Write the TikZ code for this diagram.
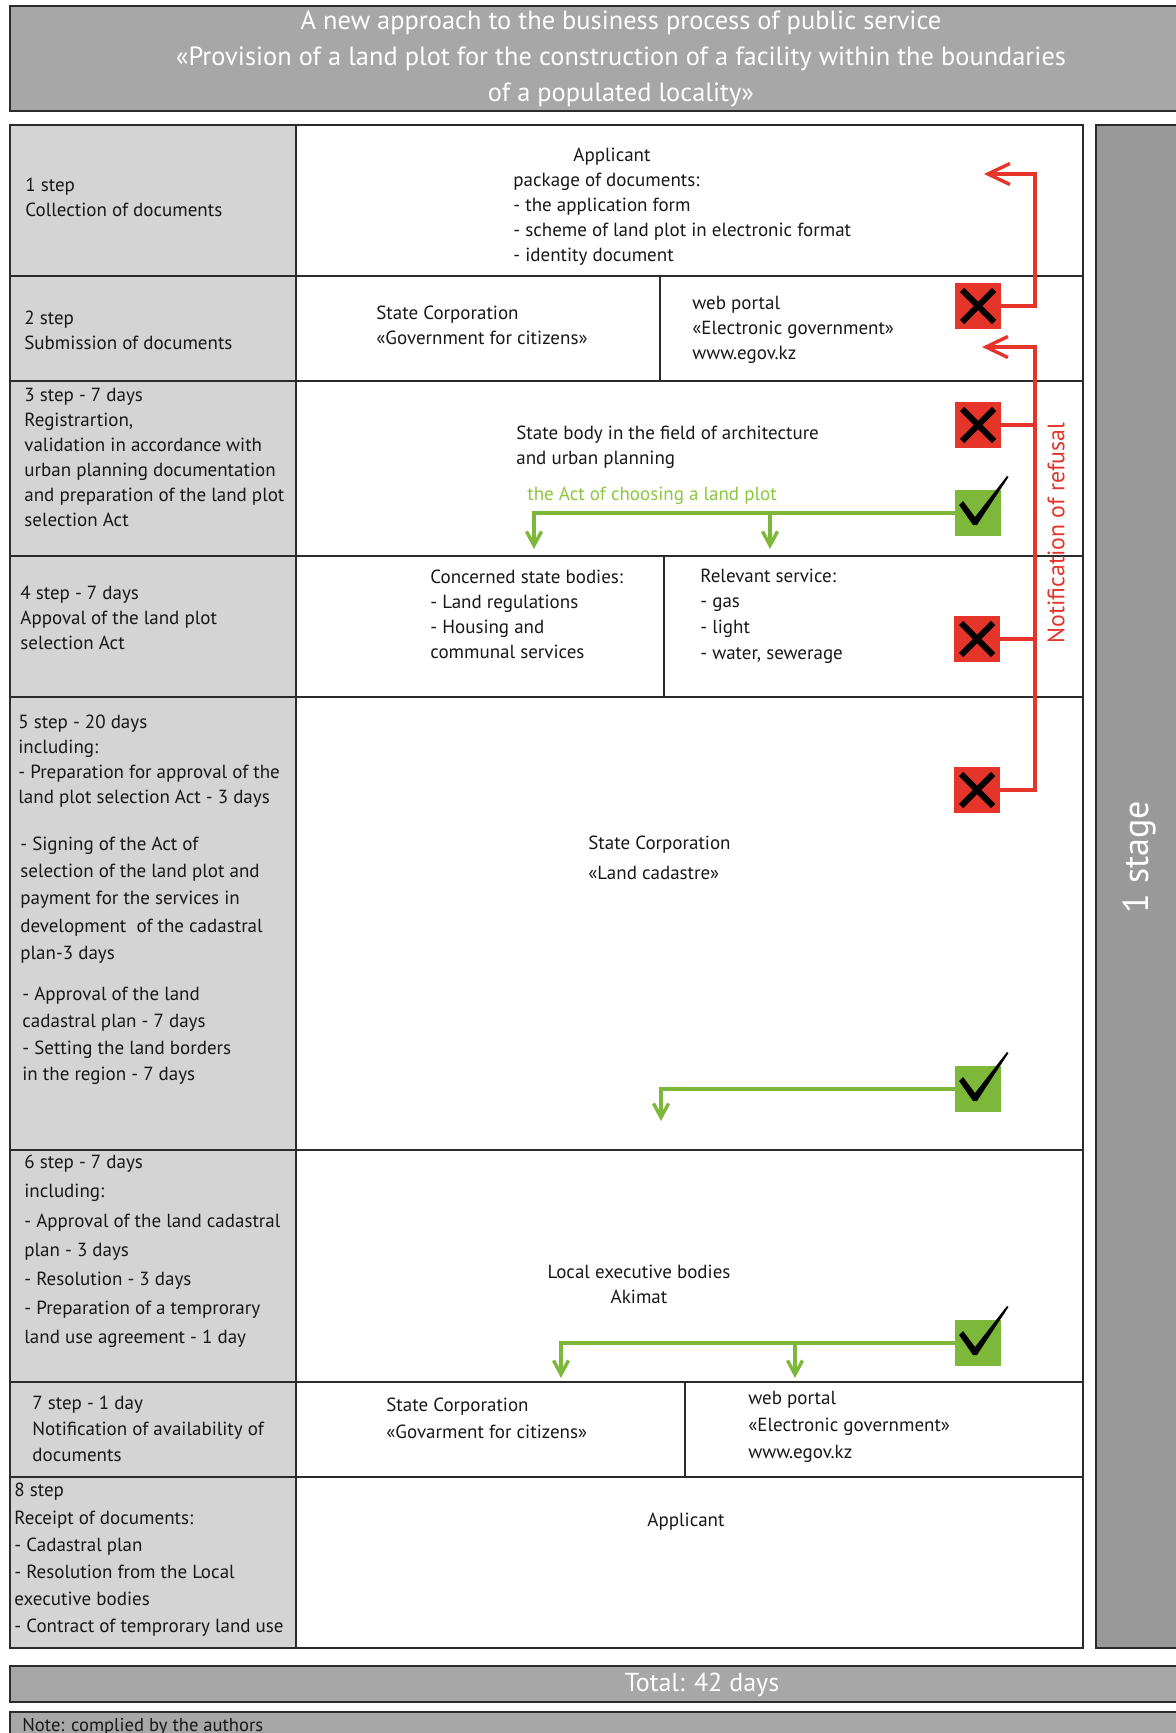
\documentclass[tikz,border=0pt]{standalone}
\usepackage{fontspec}
\setmainfont{PT Sans}
\usetikzlibrary{arrows.meta}
\definecolor{lgray}{HTML}{D4D4D4}
\definecolor{mgray}{HTML}{A7A7A7}
\definecolor{dgray}{HTML}{999999}
\definecolor{bline}{HTML}{2B2B2B}
\definecolor{txtc}{HTML}{1A1718}
\definecolor{rred}{HTML}{E5352B}
\definecolor{ggreen}{HTML}{7DB83A}
\definecolor{gtext}{HTML}{8DC63F}
\tikzset{
  grid/.style={draw=bline, line width=1.2pt},
  txt/.style={inner sep=0pt, align=left, text=txtc, anchor=west},
  xbox/.style={rectangle, fill=rred, minimum size=23pt, inner sep=0pt,
    path picture={\draw[line width=3pt, black]
      ([shift={(3.5pt,3.5pt)}]path picture bounding box.south west) --
      ([shift={(-3.5pt,-3.5pt)}]path picture bounding box.north east)
      ([shift={(3.5pt,-3.5pt)}]path picture bounding box.north west) --
      ([shift={(-3.5pt,3.5pt)}]path picture bounding box.south east);}},
  okbox/.style={rectangle, fill=ggreen, minimum size=23pt, inner sep=0pt},
  checkmark/.pic={\fill[black] (-19,-8) -- (-15,-12) -- (-3,4) -- (29,-37) -- (30.5,-36) -- (-1,12) -- (-5,12) -- cycle;},
  redline/.style={draw=rred, line width=1.7pt},
  redarrow/.style={-{Straight Barb[length=11pt,width=10.5pt,line width=1.7pt]}},
  greenline/.style={draw=ggreen, line width=1.7pt},
  greenarrow/.style={-{Straight Barb[length=7pt,width=7.5pt,line width=1.7pt]}},
}
\begin{document}
\begin{tikzpicture}[x=0.5pt,y=-0.5pt]
\useasboundingbox (0,0) rectangle (1176,1733);
\clip (0,0) rectangle (1176,1733);
\fill[white] (0,0) rectangle (1176,1733);

% title
\filldraw[fill=mgray, draw=bline, line width=1.4pt] (10,6) rectangle (1240,111);
\node[inner sep=0pt, align=center, text=white, font=\fontsize{13.2}{18}\selectfont] (title) at (621,59)
  {A new approach to the business process of public service\\
   «Provision of a land plot for the construction of a facility within the boundaries\\
   of a populated locality»};

% table
\fill[lgray] (10,125) rectangle (296,1648);
\draw[grid] (10,125) rectangle (1083,1648);
\draw[grid] (296,125) -- (296,1648);
\foreach \yy in {276,381,556,697,1150,1382,1477} \draw[grid] (10,\yy) -- (1083,\yy);
\draw[grid] (660,276) -- (660,381);
\draw[grid] (664,556) -- (664,697);
\draw[grid] (685,1382) -- (685,1477);

% stage column
\filldraw[fill=dgray, draw=bline, line width=1.2pt] (1096,125) rectangle (1240,1648);
\node[inner sep=0pt, rotate=90, text=white, font=\fontsize{18}{20}\selectfont] (stage) at (1139,857) {1 stage};

% total and note
\filldraw[fill=mgray, draw=bline, line width=1.4pt] (10,1666) rectangle (1240,1702);
\node[inner sep=0pt, text=white, font=\fontsize{13}{15}\selectfont] (total) at (702,1685) {Total: 42 days};
\filldraw[fill=mgray, draw=bline, line width=1.4pt] (10,1712) rectangle (1240,1760);
\node[inner sep=0pt, anchor=base west, text=txtc, font=\fontsize{9.3}{12}\selectfont] (note) at (22,1731) {Note: complied by the authors};

% left column texts
\node[txt, font=\fontsize{9.5}{12.5}\selectfont] (s1) at (25,197) {1 step\\Collection of documents};
\node[txt, font=\fontsize{9.5}{12.5}\selectfont] (s2) at (24,330) {2 step\\Submission of documents};
\node[txt, font=\fontsize{9.5}{12.5}\selectfont] (s3) at (24,457.5) {3 step - 7 days\\Registrartion,\\validation in accordance with\\urban planning documentation\\and preparation of the land plot\\selection Act};
\node[txt, font=\fontsize{9.5}{12.5}\selectfont] (s4) at (20,618) {4 step - 7 days\\Appoval of the land plot\\selection Act};
\node[txt, font=\fontsize{9.5}{12.5}\selectfont] (s5a) at (18,761) {5 step - 20 days\\including:\\- Preparation for approval of the\\land plot selection Act - 3 days};
\node[txt, font=\fontsize{9.5}{13.7}\selectfont] (s5b) at (20,900) {- Signing of the Act of\\selection of the land plot and\\payment for the services in\\development\ \ of the cadastral\\plan-3 days};
\node[txt, font=\fontsize{9.5}{13.3}\selectfont] (s5c) at (22,1036) {- Approval of the land\\cadastral plan - 7 days\\- Setting the land borders\\in the region - 7 days};
\node[txt, font=\fontsize{9.5}{14.6}\selectfont] (s6) at (24,1251.5) {6 step - 7 days\\including:\\- Approval of the land cadastral\\plan - 3 days\\- Resolution - 3 days\\- Preparation of a temprorary\\land use agreement - 1 day};
\node[txt, font=\fontsize{9.5}{13}\selectfont] (s7) at (32,1429) {7 step - 1 day\\Notification of availability of\\documents};
\node[txt, font=\fontsize{9.5}{13.6}\selectfont] (s8) at (14,1560) {8 step\\Receipt of documents:\\- Cadastral plan\\- Resolution from the Local\\executive bodies\\- Contract of temprorary land use};

% middle texts
\node[inner sep=0pt, text=txtc, font=\fontsize{9.5}{12.5}\selectfont] (a1) at (612,157) {Applicant};
\node[txt, font=\fontsize{9.5}{12.5}\selectfont] (a1l) at (513,219) {package of documents:\\- the application form\\- scheme of land plot in electronic format\\- identity document};
\node[txt, font=\fontsize{9.5}{12.5}\selectfont] (c2) at (376,325) {State Corporation\\«Government for citizens»};
\node[txt, font=\fontsize{9.5}{12.5}\selectfont] (w2) at (692,329.5) {web portal\\«Electronic government»\\www.egov.kz};
\node[txt, font=\fontsize{9.5}{12.5}\selectfont] (c3) at (516,447) {State body in the field of architecture\\and urban planning};
\node[txt, text=gtext, font=\fontsize{9.5}{12.5}\selectfont] (g3) at (527,496) {the Act of choosing a land plot};
\node[txt, font=\fontsize{9.5}{12.5}\selectfont] (c4) at (430,614.5) {Concerned state bodies:\\- Land regulations\\- Housing and\\communal services};
\node[txt, font=\fontsize{9.5}{12.8}\selectfont] (w4) at (700,616) {Relevant service:\\- gas\\- light\\- water, sewerage};
\node[txt, font=\fontsize{9.5}{15}\selectfont] (c5) at (588,858) {State Corporation\\«Land cadastre»};
\node[inner sep=0pt, align=center, text=txtc, font=\fontsize{9.5}{12.5}\selectfont] (c6) at (639,1284.5) {Local executive bodies\\Akimat};
\node[txt, font=\fontsize{9.5}{13.5}\selectfont] (c7) at (386,1418.5) {State Corporation\\«Govarment for citizens»};
\node[txt, font=\fontsize{9.5}{13.5}\selectfont] (w7) at (748,1427) {web portal\\«Electronic government»\\www.egov.kz};
\node[inner sep=0pt, text=txtc, font=\fontsize{9.5}{12.5}\selectfont] (a8) at (686,1522) {Applicant};

% refusal / approval marks
\node[xbox] (x2) at (978,306) {};
\node[xbox] (x3) at (978,425) {};
\node[xbox] (x4) at (977,639) {};
\node[xbox] (x5) at (977,790) {};
\node[okbox] (ok3) at (978,513) {};
\node[okbox] (ok5) at (978,1089) {};
\node[okbox] (ok6) at (978,1343) {};
\pic at (ok3.center) {checkmark};
\pic at (ok5.center) {checkmark};
\pic at (ok6.center) {checkmark};

% red refusal connectors
\coordinate (spine) at (1035,0);
\coordinate (rt1) at (984,174);
\coordinate (rt2) at (982,347);
\draw[redline, redarrow] (x2.east) -- (x2.east -| spine) |- (rt1);
\draw[redline, redarrow] (x5.east) -- (x5.east -| spine) |- (rt2);
\draw[redline] (x3.east) -- (x3.east -| spine);
\draw[redline] (x4.east) -- (x4.east -| spine);
\node[inner sep=0pt, rotate=90, text=rred, font=\fontsize{11.9}{13}\selectfont] (refusal) at (1056,533) {Notification of refusal};

% green approval connectors
\coordinate (g3a) at (534,549);
\coordinate (g3b) at (770,549);
\coordinate (g5a) at (661,1121);
\coordinate (g6a) at (561,1378);
\coordinate (g6b) at (795,1378);
\draw[greenline, greenarrow] (ok3.west) -| (g3a);
\draw[greenline, greenarrow] (ok3.west -| g3b) -- (g3b);
\draw[greenline, greenarrow] (ok5.west) -| (g5a);
\draw[greenline, greenarrow] (ok6.west) -| (g6a);
\draw[greenline, greenarrow] (ok6.west -| g6b) -- (g6b);
\end{tikzpicture}
\end{document}
